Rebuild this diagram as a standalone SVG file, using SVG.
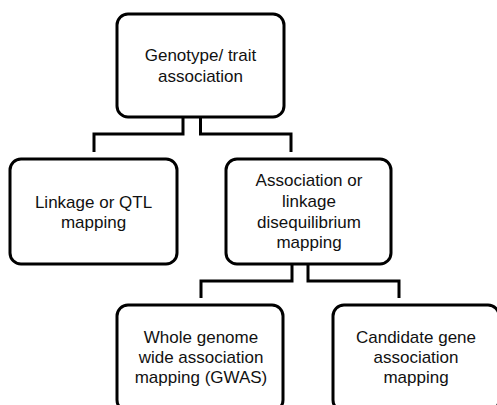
<svg xmlns="http://www.w3.org/2000/svg" width="497" height="405" viewBox="0 0 497 405">
<style>
.box{fill:#fff;stroke:#000;stroke-width:3}
.lbl{font-family:"Liberation Sans",Arial,sans-serif;font-size:17px;fill:#111;text-anchor:middle}
.conn{fill:none;stroke:#000;stroke-width:3;stroke-linejoin:miter}
</style>
<rect width="497" height="405" fill="#fff"/>
<g id="connectors">
<path class="conn" d="M183,117 V134 H94 V152"/>
<path class="conn" d="M200.5,117 V134 H291 V152"/>
<path class="conn" d="M292,264 V281 H201 V298"/>
<path class="conn" d="M308,264 V281 H399 V298"/>
</g>
<g id="n1">
<rect class="box" x="117" y="14" width="167" height="103" rx="11"/>
<text class="lbl" x="200.5" y="61">Genotype/ trait</text>
<text class="lbl" x="200.5" y="82">association</text>
</g>
<g id="n2">
<rect class="box" x="10" y="159" width="167" height="105" rx="11"/>
<text class="lbl" x="93.5" y="208">Linkage or QTL</text>
<text class="lbl" x="93.5" y="228">mapping</text>
</g>
<g id="n3">
<rect class="box" x="226" y="159" width="165" height="105" rx="11"/>
<text class="lbl" x="309" y="186">Association or</text>
<text class="lbl" x="309" y="207">linkage</text>
<text class="lbl" x="309" y="228">disequilibrium</text>
<text class="lbl" x="309" y="248">mapping</text>
</g>
<g id="n4">
<rect class="box" x="117" y="305" width="166" height="106" rx="11"/>
<text class="lbl" x="201" y="343">Whole genome</text>
<text class="lbl" x="201" y="363">wide association</text>
<text class="lbl" x="201" y="383">mapping (GWAS)</text>
</g>
<g id="n5">
<rect class="box" x="333" y="305" width="166" height="106" rx="11"/>
<text class="lbl" x="416" y="343">Candidate gene</text>
<text class="lbl" x="416" y="363">association</text>
<text class="lbl" x="416" y="383">mapping</text>
</g>
</svg>
